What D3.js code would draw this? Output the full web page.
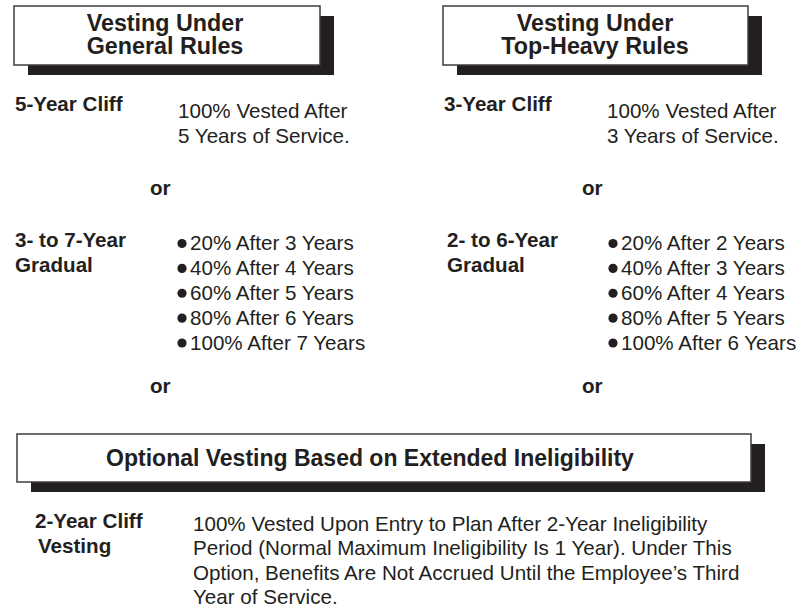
<!DOCTYPE html>
<html>
<head>
<meta charset="utf-8">
<script src="https://cdn.jsdelivr.net/npm/d3@7"></script>
<style>
  html, body { margin: 0; padding: 0; background: #fff; }
  svg { display: block; }
  text { font-family: "Liberation Sans", Arial, Helvetica, sans-serif; fill: #231f20; }
</style>
</head>
<body>
<script>
// ---- Data ----
const headerTitles = [["Vesting Under", "General Rules"], ["Vesting Under", "Top-Heavy Rules"]];
const cliffLabels = ["5-Year Cliff", "3-Year Cliff"];
const cliffYears = [5, 3];
const gradualLabels = [["3- to 7-Year", "Gradual"], ["2- to 6-Year", "Gradual"]];
const gradualPercents = [20, 40, 60, 80, 100];
const generalGradualYears = [3, 4, 5, 6, 7];
const topHeavyGradualYears = [2, 3, 4, 5, 6];
const optionalTitle = "Optional Vesting Based on Extended Ineligibility";
const optionalLabel = ["2-Year Cliff", "Vesting"];
const optionalText = [
  "100% Vested Upon Entry to Plan After 2-Year Ineligibility",
  "Period (Normal Maximum Ineligibility Is 1 Year). Under This",
  "Option, Benefits Are Not Accrued Until the Employee\u2019s Third",
  "Year of Service."
];

// ---- Drawing ----
const W = 802, H = 608;
const ink = "#231f20";
const FS = 20.6;
const svg = d3.select("body").append("svg").attr("width", W).attr("height", H);

function shadowBox(x, y, w, h) {
  svg.append("rect").attr("x", x + 14).attr("y", y + 10).attr("width", w).attr("height", h).attr("fill", ink);
  svg.append("rect").attr("x", x).attr("y", y).attr("width", w).attr("height", h)
    .attr("fill", "#fff").attr("stroke", "#3d3d3d").attr("stroke-width", 1.5);
}

const cols = [
  { box: [14, 6, 306, 59], cx: 165, labelX: 15, gradX: 15, textX: 178, orX: 150, bulletX: 182, years: generalGradualYears },
  { box: [443, 6, 305, 59], cx: 595, labelX: 444, gradX: 447, textX: 607, orX: 582, bulletX: 613, years: topHeavyGradualYears }
];

cols.forEach((c, i) => {
  shadowBox(...c.box);
  svg.append("g").selectAll("text").data(headerTitles[i]).join("text")
    .attr("x", c.cx).attr("y", (d, j) => 31 + j * 23)
    .attr("text-anchor", "middle").attr("font-weight", "bold").attr("font-size", 23.3)
    .text(d => d);

  // cliff
  svg.append("text").attr("x", c.labelX).attr("y", 111).attr("font-weight", "bold").attr("font-size", FS)
    .text(cliffLabels[i]);
  svg.append("g").selectAll("text")
    .data(["100% Vested After", `${cliffYears[i]} Years of Service.`]).join("text")
    .attr("x", c.textX).attr("y", (d, j) => 118 + j * 24.5).attr("font-size", FS).text(d => d);

  // or
  [195, 393].forEach(y => svg.append("text").attr("x", c.orX).attr("y", y)
    .attr("font-weight", "bold").attr("font-size", FS).text("or"));

  // gradual
  svg.append("g").selectAll("text").data(gradualLabels[i]).join("text")
    .attr("x", c.gradX).attr("y", (d, j) => 247 + j * 25)
    .attr("font-weight", "bold").attr("font-size", FS).text(d => d);

  const yRow = d3.scalePoint().domain(d3.range(gradualPercents.length)).range([250, 349.5]);
  const rows = svg.append("g").selectAll("g").data(gradualPercents.map((p, k) => ({ p, yr: c.years[k], k })))
    .join("g").attr("transform", d => `translate(0,${yRow(d.k)})`);
  rows.append("circle").attr("cx", c.bulletX).attr("cy", -6.5).attr("r", 4.6).attr("fill", ink);
  rows.append("text").attr("x", c.bulletX + 8).attr("y", 0).attr("font-size", FS)
    .text(d => `${d.p}% After ${d.yr} Years`);
});

// Optional box
shadowBox(17, 434, 734, 48);
svg.append("text").attr("x", 370).attr("y", 466).attr("text-anchor", "middle")
  .attr("font-weight", "bold").attr("font-size", 23).text(optionalTitle);

svg.append("g").selectAll("text").data(optionalLabel).join("text")
  .attr("x", (d, j) => j === 0 ? 35 : 38).attr("y", (d, j) => 528 + j * 25)
  .attr("font-weight", "bold").attr("font-size", FS).text(d => d);

svg.append("g").selectAll("text").data(optionalText).join("text")
  .attr("x", 193).attr("y", (d, j) => 531 + j * 24.3)
  .attr("font-size", FS).text(d => d);
</script>
</body>
</html>
